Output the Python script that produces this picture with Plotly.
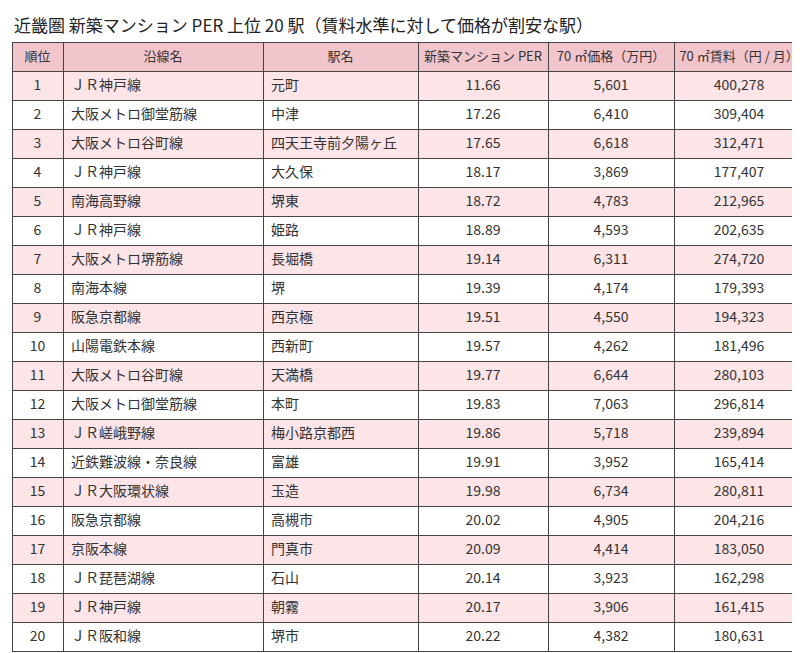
import plotly.graph_objects as go

ranks = list(range(1, 21))
lines = ["ＪＲ神戸線", "大阪メトロ御堂筋線", "大阪メトロ谷町線", "ＪＲ神戸線", "南海高野線",
         "ＪＲ神戸線", "大阪メトロ堺筋線", "南海本線", "阪急京都線", "山陽電鉄本線",
         "大阪メトロ谷町線", "大阪メトロ御堂筋線", "ＪＲ嵯峨野線", "近鉄難波線・奈良線", "ＪＲ大阪環状線",
         "阪急京都線", "京阪本線", "ＪＲ琵琶湖線", "ＪＲ神戸線", "ＪＲ阪和線"]
stations = ["元町", "中津", "四天王寺前夕陽ヶ丘", "大久保", "堺東", "姫路", "長堀橋", "堺", "西京極", "西新町",
            "天満橋", "本町", "梅小路京都西", "富雄", "玉造", "高槻市", "門真市", "石山", "朝霧", "堺市"]
per = [11.66, 17.26, 17.65, 18.17, 18.72, 18.89, 19.14, 19.39, 19.51, 19.57,
       19.77, 19.83, 19.86, 19.91, 19.98, 20.02, 20.09, 20.14, 20.17, 20.22]
price = [5601, 6410, 6618, 3869, 4783, 4593, 6311, 4174, 4550, 4262,
         6644, 7063, 5718, 3952, 6734, 4905, 4414, 3923, 3906, 4382]
rent = [400278, 309404, 312471, 177407, 212965, 202635, 274720, 179393, 194323, 181496,
        280103, 296814, 239894, 165414, 280811, 204216, 183050, 162298, 161415, 180631]
headers = ["順位", "沿線名", "駅名", "新築マンション\u00a0PER", "70\u00a0㎡価格（万円）", "70\u00a0㎡賃料（円\u00a0/\u00a0月）"]

fills = ["#fce4e7" if i % 2 == 0 else "white" for i in range(len(ranks))]
font = "Noto Sans CJK JP"

fig = go.Figure(go.Table(
    domain=dict(x=[0, 1], y=[0, 1 - 33 / 653]),
    columnwidth=[51, 200, 155, 130, 126, 130],
    header=dict(values=headers, height=29, fill_color="#f2c4cb",
                line=dict(color="#444", width=1), align="center",
                font=dict(family=font, size=13, color="#333")),
    cells=dict(values=[ranks, lines, stations,
                       [f"{v:.2f}" for v in per], [f"{v:,}" for v in price], [f"{v:,}" for v in rent]],
               height=29, fill_color=[fills] * 6, line=dict(color="#444", width=1),
               align=["center", "left", "left", "center", "center", "center"],
               font=dict(family=font, size=14, color="#333")),
))
fig.add_annotation(text="近畿圏 新築マンション PER 上位 20 駅（賃料水準に対して価格が割安な駅）",
                   x=0, y=1, xref="paper", yref="paper", xanchor="left", yanchor="top",
                   showarrow=False, font=dict(family=font, size=17, color="#222"))
fig.update_layout(width=800, height=653, margin=dict(l=4, r=4, t=2, b=0),
                  paper_bgcolor="white")
fig.write_html("out.html")
